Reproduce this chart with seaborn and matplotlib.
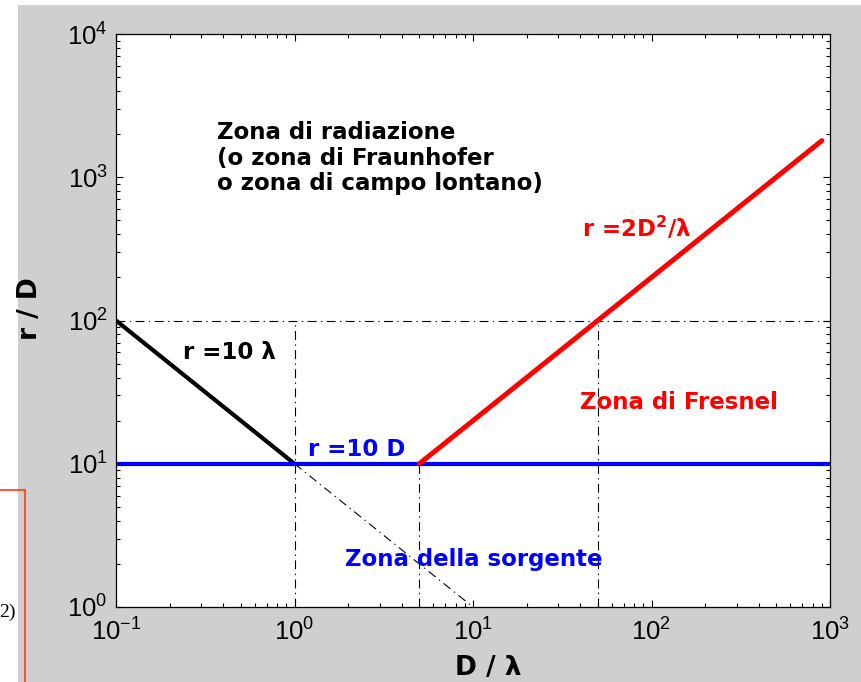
## IMPORTS
import numpy as np
import pandas as pd

import matplotlib
matplotlib.use('Agg')
import matplotlib.pyplot as plt
from matplotlib.patches import Rectangle
from matplotlib.lines import Line2D
import seaborn as sns

## DATA
# r = 10 lambda  (r/D = 10 / (D/lambda))
near_x = [0.1, 1]
near_y = [100, 10]
# continuation of r = 10 lambda below r = 10 D
near_ext_x = [1, 10]
near_ext_y = [10, 1]
# r = 10 D
source_x = [0.1, 1000]
source_y = [10, 10]
# r = 2 D^2 / lambda
far_x = [5, 900]
far_y = [10, 1800]
# dash-dot guide lines
guide_h_x = [0.1, 1000]
guide_h_y = [100, 100]
guide_v = [(1, [1, 100]), (5, [1, 10]), (50, [1, 100])]

## STYLE
sns.set_style('ticks')
plt.rcParams['font.family'] = ['Liberation Sans', 'DejaVu Sans']
plt.rcParams['mathtext.fontset'] = 'custom'
plt.rcParams['mathtext.rm'] = 'Liberation Sans'
plt.rcParams['mathtext.bf'] = 'DejaVu Sans:bold'
plt.rcParams['text.color'] = 'black'
plt.rcParams['axes.labelcolor'] = 'black'
plt.rcParams['xtick.color'] = 'black'
plt.rcParams['ytick.color'] = 'black'

GRAY = '#cfcfcf'
DASHDOT = (0, (8, 4, 1.2, 4))
ANN = dict(family='DejaVu Sans', fontsize=16.5, fontweight='bold',
           ha='left', va='center')

fig = plt.figure(figsize=(8.61, 6.82), dpi=100, facecolor='white')
# grey MATLAB-like figure background
fig.patches.append(Rectangle((18 / 861, 0), 1, (682 - 5) / 682,
                             transform=fig.transFigure, facecolor=GRAY,
                             edgecolor='none', zorder=-10))
# fragment of the surrounding document
fig.lines.append(Line2D([25 / 861, 25 / 861], [0, (682 - 490) / 682],
                        transform=fig.transFigure, color='#ff3b1a', lw=1.2))
fig.lines.append(Line2D([0, 25 / 861], [(682 - 490) / 682] * 2,
                        transform=fig.transFigure, color='#ff3b1a', lw=1.2))
fig.text(16 / 861, 1 - 612 / 682, '2)', family='Liberation Serif', fontsize=14,
         ha='right', va='center')

ax = fig.add_axes([116 / 861, 1 - 607 / 682, (830 - 116) / 861, (607 - 34) / 682])
ax.set_facecolor('white')

## LINES
sns.lineplot(x=guide_h_x, y=guide_h_y, ax=ax, color='black', linewidth=0.8,
             linestyle=DASHDOT, estimator=None)
for xv, yv in guide_v:
    sns.lineplot(x=[xv, xv], y=yv, ax=ax, color='black', linewidth=0.8,
                 linestyle=DASHDOT, estimator=None, sort=False)
sns.lineplot(x=near_ext_x, y=near_ext_y, ax=ax, color='black', linewidth=0.8,
             linestyle=DASHDOT, estimator=None)
sns.lineplot(x=near_x, y=near_y, ax=ax, color='black', linewidth=3)
sns.lineplot(x=source_x, y=source_y, ax=ax, color='#0000ff', linewidth=3)
sns.lineplot(x=far_x, y=far_y, ax=ax, color='#ff0000', linewidth=3.6)

ax.set_xscale('log')
ax.set_yscale('log')
ax.set_xlim(0.1, 1000)
ax.set_ylim(1, 10000)

## TEXT
ax.text(0.37, 1360, 'Zona di radiazione\n(o zona di Fraunhofer\no zona di campo lontano)',
        color='black', linespacing=1.15, **ANN)
ax.text(0.237, 60, 'r =10 λ', color='black', **ANN)
ax.text(1.19, 12.5, 'r =10 D', color='#0000ff', **ANN)
ax.text(41, 440, r'r =2D$^{\mathbf{2}}$/λ', color='#ff0000', **ANN)
ax.text(39.7, 26.6, 'Zona di Fresnel', color='#ff0000', **ANN)
ax.text(1.92, 2.13, 'Zona della sorgente', color='#0000ff', **ANN)

## AXES
ax.set_xlabel('D / λ', family='DejaVu Sans', fontsize=19, fontweight='bold',
              color='black')
ax.set_ylabel('r / D', family='DejaVu Sans', fontsize=19, fontweight='bold',
              color='black')
ax.xaxis.set_label_coords(0.521, -0.084)
ax.yaxis.set_label_coords(-0.102, 0.52)
ax.tick_params(which='both', direction='in', top=True, right=True,
               labelsize=18.5, color='black', labelcolor='black', width=0.8)
ax.tick_params(which='major', length=5)
ax.tick_params(which='minor', length=3)
ax.tick_params(axis='y', pad=6)
ax.tick_params(axis='x', pad=8)
for side in ax.spines.values():
    side.set_visible(True)
    side.set_color('black')
    side.set_linewidth(0.9)

fig.savefig('out.png', dpi=100, facecolor=fig.get_facecolor())
